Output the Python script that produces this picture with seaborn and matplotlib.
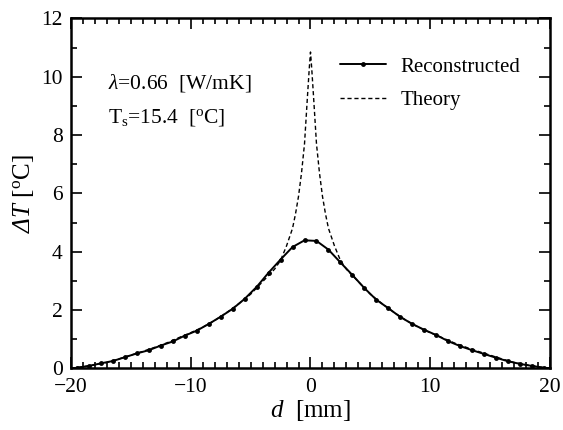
import numpy as np
import pandas as pd
import matplotlib
matplotlib.use("Agg")
import matplotlib.pyplot as plt
from matplotlib.ticker import MultipleLocator
import seaborn as sns

# Reconstructed temperature rise, sampled every 1 mm at half-integer positions
d_rec = [-19.5, -18.5, -17.5, -16.5, -15.5, -14.5, -13.5, -12.5, -11.5, -10.5,
         -9.5, -8.5, -7.5, -6.5, -5.5, -4.5, -3.5, -2.5, -1.5, -0.5,
         0.5, 1.5, 2.5, 3.5, 4.5, 5.5, 6.5, 7.5, 8.5, 9.5,
         10.5, 11.5, 12.5, 13.5, 14.5, 15.5, 16.5, 17.5, 18.5, 19.5]
dt_rec = [0.02, 0.08, 0.17, 0.25, 0.38, 0.51, 0.62, 0.78, 0.92, 1.12,
          1.29, 1.52, 1.77, 2.04, 2.38, 2.79, 3.28, 3.73, 4.16, 4.39,
          4.37, 4.07, 3.63, 3.20, 2.75, 2.35, 2.06, 1.76, 1.52, 1.32,
          1.14, 0.93, 0.76, 0.62, 0.49, 0.36, 0.24, 0.15, 0.08, 0.02]

# Theoretical temperature rise
d_th = [-20, -19, -18, -17, -16, -15, -14, -13, -12, -11, -10, -9, -8, -7, -6,
        -5, -4, -3, -2.5, -2, -1.5, -1.25, -1, -0.75, -0.5, -0.25, -0.1, 0,
        0.1, 0.25, 0.5, 0.75, 1, 1.25, 1.5, 2, 2.5, 3, 4, 5, 6, 7, 8, 9, 10,
        11, 12, 13, 14, 15, 16, 17, 18, 19, 20]
dt_th = [0.0, 0.05, 0.12, 0.20, 0.32, 0.45, 0.58, 0.72, 0.87, 1.05, 1.22, 1.41,
         1.64, 1.91, 2.21, 2.54, 2.97, 3.40, 3.70, 4.20, 4.80, 5.30, 5.90, 6.70,
         7.70, 9.35, 10.30, 10.85,
         10.30, 9.35, 7.70, 6.70, 5.90, 5.30, 4.80, 4.20, 3.70, 3.40, 2.97, 2.54,
         2.21, 1.91, 1.64, 1.41, 1.22, 1.05, 0.87, 0.72, 0.58, 0.45, 0.32, 0.20,
         0.12, 0.05, 0.0]

x_ticks = [-20, -10, 0, 10, 20]
x_ticklabels = ["\u221220", "\u221210", "0", "10", "20"]
y_ticks = [0, 2, 4, 6, 8, 10, 12]

sns.set_theme(style="ticks")
plt.rcParams["font.family"] = ["Liberation Serif", "DejaVu Serif"]
plt.rcParams["text.color"] = "black"
plt.rcParams["axes.labelcolor"] = "black"
# math: rm slot italic (so Greek capitals come out slanted), sf slot upright
plt.rcParams["mathtext.fontset"] = "custom"
plt.rcParams["mathtext.rm"] = "Liberation Serif:italic"
plt.rcParams["mathtext.it"] = "Liberation Serif:italic"
plt.rcParams["mathtext.sf"] = "Liberation Serif"

rec = pd.DataFrame({"d": d_rec, "dT": dt_rec})
th = pd.DataFrame({"d": d_th, "dT": dt_th})

fig = plt.figure(figsize=(5.63, 4.30), dpi=100)
ax = fig.add_axes([0.126, 0.1435, 0.851, 0.8135])

sns.lineplot(data=rec, x="d", y="dT", ax=ax, color="black", linewidth=1.4,
             marker="o", markersize=3.5, markeredgewidth=0, sort=False,
             label="Reconstructed")
sns.lineplot(data=th, x="d", y="dT", ax=ax, color="black", linewidth=1.0,
             linestyle=(0, (3, 2)), sort=False, label="Theory")

ax.set_xlim(-20, 20)
ax.set_ylim(0, 12)
ax.set_xticks(x_ticks)
ax.set_xticklabels(x_ticklabels)
ax.set_yticks(y_ticks)
ax.xaxis.set_minor_locator(MultipleLocator(1))
ax.yaxis.set_minor_locator(MultipleLocator(1))
ax.tick_params(which="both", direction="in", top=True, right=True,
               labelsize=15.5, colors="black", width=1.2)
ax.tick_params(which="major", length=8)
ax.tick_params(which="minor", length=4)
ax.tick_params(axis="x", which="major", pad=7)
ax.tick_params(axis="y", which="major", pad=6)
for s in ax.spines.values():
    s.set_linewidth(1.8)
    s.set_color("black")

ax.set_xlabel(r"$d$  $\mathsf{[mm]}$", fontsize=18, labelpad=1, color="black")
ax.set_ylabel(r"$\Delta T$ $\mathsf{[^{o}C]}$", fontsize=18, labelpad=4,
              color="black")

ax.text(0.077, 0.815, r"$\lambda$=0.66  [W/mK]", transform=ax.transAxes,
        fontsize=15.5, va="center", ha="left", color="black")
ax.text(0.077, 0.718, r"T$_{\mathsf{s}}$=15.4  [$^{\mathsf{o}}$C]",
        transform=ax.transAxes, fontsize=15.5, va="center", ha="left",
        color="black")

leg = ax.legend(loc="upper left", bbox_to_anchor=(0.5616, 0.89), frameon=False,
                fontsize=15, handlelength=2.2, handletextpad=0.72,
                labelspacing=0.68, borderpad=0, borderaxespad=0,
                labelcolor="black")

fig.savefig("out.png", dpi=100)
